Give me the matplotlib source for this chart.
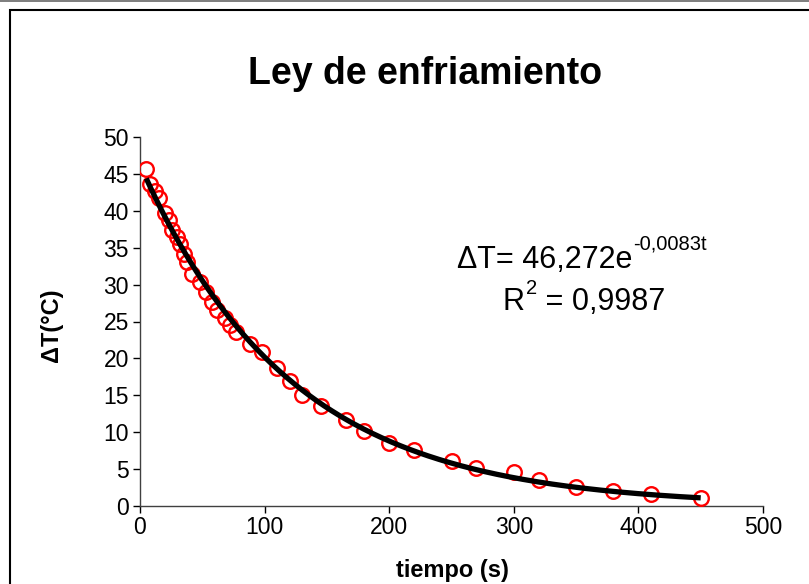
import numpy as np
import matplotlib
matplotlib.use("Agg")
import matplotlib.pyplot as plt
from matplotlib.patches import Rectangle

plt.rcParams['font.family'] = ['Liberation Sans', 'DejaVu Sans']

# Data
tiempo = [5, 8, 12, 15, 20, 23, 26, 30, 32, 35, 38, 42, 48, 53, 58, 62, 68, 72, 77,
          88, 98, 110, 120, 130, 145, 165, 180, 200, 220, 250, 270, 300, 320, 350,
          380, 410, 450]
delta_T = [45.6, 43.6, 42.7, 41.7, 39.7, 38.7, 37.4, 36.4, 35.5, 34.1, 33.0, 31.5,
           30.4, 29.0, 27.6, 26.5, 25.5, 24.5, 23.6, 22.0, 20.9, 18.7, 16.9, 15.0,
           13.6, 11.6, 10.1, 8.6, 7.6, 6.1, 5.2, 4.65, 3.5, 2.6, 2.1, 1.6, 1.1]
fit_a = 46.272
fit_k = 0.0083

x_ticks = [0, 100, 200, 300, 400, 500]
y_ticks = [0, 5, 10, 15, 20, 25, 30, 35, 40, 45, 50]

W, H = 809, 584
fig = plt.figure(figsize=(W / 100, H / 100), dpi=100)
fig.patch.set_facecolor('white')

# chart-area border
fig.patches.append(Rectangle((10 / W, -0.1), 1.2, 1 - 10 / H + 0.1,
                             transform=fig.transFigure, fill=False,
                             edgecolor='black', linewidth=1.5))
fig.patches.append(Rectangle((0, 1 - 1.5 / H), 1, 1.5 / H,
                             transform=fig.transFigure, facecolor='#808080',
                             edgecolor='none'))

ax = fig.add_axes([140 / W, 1 - 506 / H, (763 - 140) / W, (506 - 137) / H])
ax.set_facecolor('white')

ax.plot(tiempo, delta_T, linestyle='none', marker='o', markersize=10.5,
        markerfacecolor='none', markeredgecolor='red', markeredgewidth=1.7,
        zorder=3)

t_fit = np.linspace(min(tiempo), max(tiempo), 300)
ax.plot(t_fit, fit_a * np.exp(-fit_k * t_fit), color='black', linewidth=3.8,
        solid_capstyle='butt', zorder=4)

ax.set_xlim(0, 500)
ax.set_ylim(0, 50)
ax.set_xticks(x_ticks)
ax.set_yticks(y_ticks)
ax.tick_params(axis='both', direction='out', length=5, width=1, labelsize=16.5,
               colors='black', pad=3)
ax.tick_params(axis='x', pad=2.5)
for s in ['top', 'right']:
    ax.spines[s].set_visible(False)
for s in ['left', 'bottom']:
    ax.spines[s].set_color('#404040')
    ax.spines[s].set_linewidth(1)

fig.text(452 / W, 1 - 571 / H, 'tiempo (s)', ha='center', va='center',
         fontsize=17, fontweight='bold')
fig.text(52 / W, 1 - 325 / H, 'ΔT(°C)', ha='center', va='center',
         fontsize=17, fontweight='bold', rotation=90)

fig.text(425 / W, 1 - 74 / H, 'Ley de enfriamiento', ha='center', va='center',
         fontsize=27, fontweight='bold')

renderer = fig.canvas.get_renderer()


def text_with_sup(x_px, y_px, base, sup, size, sup_size, rise_px):
    t = fig.text(x_px / W, 1 - y_px / H, base, ha='left', va='baseline',
                 fontsize=size)
    bb = t.get_window_extent(renderer=renderer)
    return fig.text(bb.x1 / W + 1 / W, (H - y_px + rise_px) / H, sup,
                    ha='left', va='baseline', fontsize=sup_size)


text_with_sup(457, 268, 'ΔT= 46,272e', '-0,0083t', 22, 14.5, 19)
t_r = text_with_sup(503, 310, 'R', '2', 22, 14.5, 16)
bb_sup = t_r.get_window_extent(renderer=renderer)
fig.text(bb_sup.x1 / W, 1 - 310 / H, ' = 0,9987', ha='left', va='baseline',
         fontsize=22)

fig.savefig('out.png', dpi=100, facecolor='white')
